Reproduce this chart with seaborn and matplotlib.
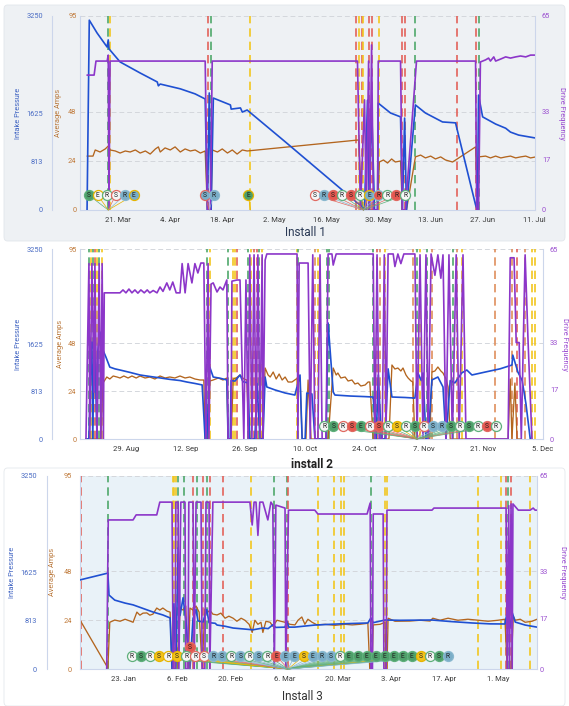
import numpy as np
import pandas as pd
import seaborn as sns
import matplotlib
matplotlib.use('Agg')
import matplotlib.pyplot as plt
import matplotlib.dates as mdates
import matplotlib.transforms as mtransforms
from matplotlib.patches import FancyBboxPatch

sns.set_theme(style='white')
plt.rcParams['font.family'] = ['Roboto', 'DejaVu Sans']

# ---------------- data (days counted from each install's base date) ----------------
# Install 1
p1_base = '2022-03-11'
p1_xlim = (-0.3, 122.2)
p1_ticks = ['2022-03-21', '2022-04-04', '2022-04-18', '2022-05-02', '2022-05-16',
            '2022-05-30', '2022-06-13', '2022-06-27', '2022-07-11']
p1_press_t = [1.6, 2.2, 4.3, 7.0, 7.3, 7.5, 10.5, 15.9, 20.5, 20.8, 21.3, 26.7, 30.7, 33.4, 34.0, 34.5,
              35.0, 35.6, 40.2, 40.4, 42.9, 43.4, 44.7, 55.0, 75.7, 76.3, 77.1, 77.6, 78.2, 79.0, 79.8,
              80.0, 83.3, 86.0, 86.5, 87.1, 87.6, 90.0, 92.7, 97.3, 100.8, 106.2, 106.7, 107.0, 108.1,
              111.6, 114.3, 115.6, 117.8, 122.4]
p1_press = [0, 3180, 2965, 2730, 2850, 2700, 2480, 2295, 2145, 2080, 2110, 2030, 1945, 1860, 0, 1960,
            0, 1875, 1760, 1690, 1710, 1640, 1675, 1140, 50, 0, 1840, 0, 1760, 0, 0,
            1790, 1625, 1560, 0, 1540, 0, 1760, 1625, 1475, 1460, 85, 0, 1925, 1560,
            1440, 1370, 1305, 1255, 1205]
p1_amps_t = [1.6, 3.2, 3.8, 5.1, 6.5, 7.3, 7.8, 9.2, 10.5, 11.9, 13.2, 14.6, 15.9, 17.3, 18.6, 20.0,
             20.8, 21.3, 22.6, 24.0, 25.3, 26.7, 28.0, 29.4, 30.7, 32.1, 33.4, 34.0, 35.0, 35.3, 36.7,
             38.0, 39.4, 40.7, 42.0, 43.4, 44.7, 74.7, 75.7, 79.8, 80.3, 81.4, 82.5, 83.6, 84.6, 86.0,
             86.5, 87.6, 90.0, 91.4, 92.7, 94.1, 95.4, 96.8, 98.1, 100.0, 106.2, 106.7, 107.0, 108.9,
             110.2, 111.6, 113.0, 114.3, 115.6, 117.0, 118.3, 119.7, 121.0, 122.4]
p1_amps = [26.4, 26.4, 29.4, 28.4, 29.9, 31.3, 29.4, 28.9, 27.9, 28.9, 28.4, 29.4, 27.9, 28.9, 27.4, 29.9,
           30.9, 28.4, 30.4, 29.4, 30.9, 28.4, 29.9, 28.9, 29.4, 27.9, 28.9, 0, 0, 29.4, 28.4,
           29.9, 27.9, 29.4, 27.4, 29.4, 28.9, 34.3, 0, 0, 23.5, 24.5, 23.0, 25.0, 23.5, 24.0,
           0, 0, 26.0, 26.9, 25.5, 26.4, 25.0, 26.0, 24.5, 23.5, 30.9, 0, 26.0, 26.4,
           25.5, 26.4, 25.5, 26.0, 26.4, 25.5, 26.0, 26.4, 25.5, 26.0]
p1_freq_t = [1.6, 3.5, 4.0, 7.0, 7.3, 7.5, 7.8, 33.4, 34.0, 34.8, 35.3, 74.4, 75.2, 76.3, 76.8, 77.4,
             77.7, 78.2, 78.7, 79.8, 80.0, 86.0, 86.5, 87.3, 90.3, 106.2, 106.5, 107.0, 107.5, 108.9,
             109.7, 110.2, 111.1, 111.6, 113.0, 114.3, 115.6, 117.0, 118.3, 119.7, 121.0, 122.4]
p1_freq = [45.2, 45.2, 49.9, 49.9, 51.9, 0, 49.9, 49.9, 0, 0, 49.9, 49.9, 0, 36.9, 0, 49.9,
           0, 55.3, 0, 0, 49.9, 49.9, 0, 0, 49.9, 49.9, 0, 0, 49.6, 50.3,
           50.9, 49.9, 51.3, 49.9, 50.6, 51.3, 50.9, 51.3, 51.6, 51.3, 51.9, 51.9]
p1_events = [7.3, 7.7, 34.2, 35.0, 45.6, 74.1, 74.9, 75.5, 76.0, 77.4, 78.2, 80.1, 86.5, 87.1,
             90.0, 101.3, 106.2, 107.0]
p1_event_kind = list('gyrgyryryrryrrgrrg')
p1_mk_center = [8.1, 34.5, 45.0, 75.1]
p1_mk_anchor = [7.3, 34.5, 45.6, 76.0]
p1_mk_level = [0, 0, 0, 0]
p1_mk_letters = ['SERSRE', 'SR', 'E', 'SRSRSRERRRR']
p1_mk_fills = ['gwwwbb', 'bb', 'g', 'wbrwrwbrwrw']
p1_mk_edges = ['gygrby', 'rb', 'y', 'rbrgrgybgrg']

# Install 2
p2_base = '2022-08-20'
p2_xlim = (-1.8, 107.0)
p2_ticks = ['2022-08-29', '2022-09-12', '2022-09-26', '2022-10-10', '2022-10-24',
            '2022-11-07', '2022-11-21', '2022-12-05']
p2_press_t = [-0.4, 0.3, 0.8, 1.0, 1.2, 1.5, 1.7, 2.2, 2.4, 2.9, 3.4, 4.3, 5.2, 6.4, 7.6, 9.9, 12.3,
              14.6, 17.0, 19.3, 21.7, 23.3, 25.2, 26.9, 27.6, 28.0, 28.7, 29.5, 31.1, 32.7, 33.0, 33.5,
              33.7, 34.6, 35.8, 36.5, 37.7, 38.1, 39.3, 39.8, 40.5, 41.2, 41.7, 42.1, 44.0, 46.4, 48.7,
              49.9, 50.4, 51.1, 51.5, 52.7, 53.4, 56.0, 56.5, 57.7, 58.1, 61.7, 65.2, 67.1, 67.8, 68.3,
              69.0, 69.9, 70.6, 71.5, 74.6, 76.9, 77.6, 78.4, 78.8, 79.5, 80.0, 80.9, 82.3, 83.5, 84.2,
              85.2, 86.3, 87.9, 89.1, 90.3, 93.4, 96.9, 99.7, 99.9, 101.1, 102.1, 103.0, 104.0]
p2_press = [0, 0, 1500, 1660, 0, 1550, 1520, 0, 1520, 1830, 1555, 1400, 1230, 1200, 1180, 1140, 1095,
            1070, 1045, 1020, 1000, 975, 950, 925, 0, 0, 1230, 1060, 1040, 1010, 0, 0,
            1000, 990, 1095, 980, 960, 0, 0, 950, 0, 0, 1060, 890, 840, 787, 752,
            1095, 0, 0, 787, 770, 0, 0, 1985, 804, 752, 735, 725, 718, 0, 1095,
            0, 0, 1200, 718, 710, 700, 1130, 1000, 1130, 0, 0, 1010, 1060, 890, 0,
            1000, 960, 1130, 1180, 1095, 1145, 1200, 1265, 1435, 1145, 1000, 600, 0]
p2_amps_t = [-0.4, 3.1, 3.6, 4.5, 5.2, 6.0, 6.9, 7.6, 8.5, 9.5, 10.4, 11.4, 12.3, 13.5, 14.6, 15.8,
             17.0, 18.2, 19.3, 20.5, 21.7, 22.9, 24.0, 25.2, 26.4, 27.3, 27.6, 28.3, 28.7, 29.5, 30.7,
             31.8, 32.7, 33.0, 33.7, 34.2, 34.9, 35.8, 36.7, 37.4, 37.9, 41.0, 41.7, 42.4, 42.9, 43.6,
             44.3, 45.0, 45.7, 46.4, 47.1, 48.0, 49.0, 49.9, 50.4, 51.3, 51.8, 52.5, 56.5, 57.7, 58.4,
             58.8, 59.5, 60.5, 61.2, 62.1, 62.8, 63.5, 64.2, 65.2, 65.9, 66.3, 67.1, 70.8, 71.5, 72.2,
             72.9, 73.6, 74.1, 74.8, 75.3, 76.0, 76.4, 76.9, 80.4, 80.9, 81.6, 82.3, 83.0, 83.5, 84.2,
             84.7, 85.2, 98.8, 99.3, 99.7, 100.4, 100.9, 101.8]
p2_amps = [0, 0, 28, 31, 30, 31.5, 31, 30.5, 31.5, 30.5, 31.5, 30.5, 31.5, 30.5, 31, 30,
           31.5, 30.5, 31, 30.5, 31.5, 30.5, 31, 30, 29.5, 29.5, 0, 0, 29, 29.5, 30.5,
           29.5, 30.5, 0, 0, 30, 30.5, 32, 30, 29.5, 0, 0, 35.5, 32, 31, 33.5,
           30, 32.5, 29.5, 31, 28.5, 28.5, 30, 30.5, 0, 0, 29.5, 0, 0, 35.5, 32,
           33, 30.5, 31, 29, 29.5, 27.5, 28, 26.5, 27, 28.5, 28.5, 0, 0, 37, 35,
           35.5, 34, 35.5, 32, 30.5, 29, 28.5, 0, 0, 33.5, 34, 36, 34, 33, 30,
           26, 0, 0, 30, 0, 28, 0, 0]
p2_freq_t = [-0.4, 0.3, 0.5, 1.0, 1.5, 1.7, 2.2, 2.7, 3.1, 3.4, 3.7, 3.9, 7.6, 8.3, 9.0, 9.7, 10.4,
             11.1, 11.8, 12.5, 13.3, 14.0, 14.6, 15.4, 16.3, 17.0, 17.7, 18.6, 19.3, 20.0, 20.8, 21.7,
             22.2, 22.9, 23.6, 24.5, 25.2, 25.9, 26.6, 27.3, 27.8, 28.3, 28.5, 29.0, 29.5, 30.4, 31.1,
             31.8, 32.7, 33.0, 33.7, 33.9, 35.1, 35.8, 36.7, 37.2, 37.7, 38.1, 38.6, 39.1, 39.6, 40.0,
             40.5, 41.0, 41.2, 41.7, 42.1, 49.2, 49.4, 49.7, 51.8, 52.3, 52.9, 53.4, 54.1, 54.6, 55.1,
             56.0, 56.5, 57.4, 57.7, 58.4, 67.1, 67.5, 68.0, 68.5, 69.2, 69.7, 70.1, 70.6, 71.8, 72.2,
             72.9, 73.6, 74.3, 76.9, 77.4, 78.1, 78.8, 79.5, 80.0, 80.7, 81.6, 82.3, 83.0, 83.5, 84.2,
             84.9, 85.7, 86.6, 87.3, 88.2, 88.9, 98.8, 99.3, 100.2, 100.7, 101.4, 101.9, 102.8, 103.5,
             104.4]
p2_freq = [0, 60, 0, 60, 16, 60, 0, 60, 0, 60, 0, 50, 50, 51, 50, 51.3, 50,
           51, 49.9, 51, 50, 51, 50, 50.8, 50, 52, 50.5, 53.4, 51, 53.7, 50, 50,
           60, 50, 60, 53.4, 60, 56.8, 60.2, 60.2, 0, 60, 0, 53, 53.4, 50.3, 52,
           51, 54.4, 0, 0, 54, 54.4, 54.4, 0, 54.4, 0, 63, 0, 63, 0, 63,
           0, 63, 0, 61.2, 63.3, 63.3, 0, 60.2, 60.2, 0, 63, 0, 0, 63, 0,
           0, 63.3, 63.3, 59.5, 63.3, 63.3, 0, 63, 0, 0, 63, 0, 63.3, 63.3, 59,
           63.3, 60, 63.3, 63.3, 0, 63, 0, 63, 0, 63.3, 56, 63, 55, 63, 0,
           63, 0, 63, 0, 63, 0, 0, 62, 62, 33, 33, 0, 63, 33,
           0]
p2_events = [0.3, 0.8, 1.2, 1.7, 2.2, 2.7, 3.4, 28.0, 28.7, 33.0, 34.2, 34.6, 35.1, 37.7, 38.4,
             39.1, 39.8, 40.3, 41.0, 49.2, 49.4, 53.4, 54.1, 56.2, 56.7, 67.1, 68.0, 68.7, 69.9,
             76.4, 77.4, 78.1, 79.7, 80.9, 85.9, 86.8, 88.0, 95.7, 99.7, 100.9, 102.8, 104.4, 105.1]
p2_event_kind = list('gygrygygygyyrgyrrgyygoygggroyogygogoyooroyy')
p2_mk_center = [75.8]
p2_mk_anchor = [77.4]
p2_mk_level = [0]
p2_mk_letters = ['RSRSERSRSRSRSRSRSRSR']
p2_mk_fills = ['wgwrgwrwywgwbbgwgwrw']
p2_mk_edges = ['ggrrgrrgyggrbbggggrg']

# Install 3
p3_base = '2023-01-11'
p3_xlim = (0.5, 120.2)
p3_ticks = ['2023-01-23', '2023-02-06', '2023-02-20', '2023-03-06', '2023-03-20',
            '2023-04-03', '2023-04-17', '2023-05-01']
p3_press_t = [0.5, 7.8, 8.1, 9.6, 12.3, 14.4, 17.0, 19.6, 22.2, 24.1, 24.6, 25.1, 25.6, 26.2, 26.7,
              27.5, 28.2, 29.3, 30.1, 30.9, 31.4, 32.7, 33.7, 34.3, 35.9, 36.4, 38.5, 40.6, 43.2, 45.8,
              48.4, 49.8, 51.0, 51.8, 54.2, 54.7, 55.2, 56.7, 62.0, 68.6, 75.9, 76.7, 77.3, 80.4, 84.3,
              92.7, 97.4, 103.2, 107.9, 111.8, 112.6, 113.1, 113.7, 114.5, 117.1, 120.2]
p3_press = [1500, 1615, 1245, 1160, 1110, 1080, 1020, 960, 910, 860, 0, 1100, 0, 2040, 900,
            1200, 830, 0, 850, 1000, 810, 790, 1000, 780, 770, 740, 720, 690, 675, 660,
            690, 680, 745, 700, 705, 800, 705, 705, 740, 760, 775, 860, 780, 825, 820,
            825, 800, 775, 760, 758, 1030, 700, 950, 790, 740, 705]
p3_amps_t = [0.5, 7.8, 8.3, 9.6, 11.0, 12.3, 13.6, 14.4, 15.4, 16.2, 17.0, 18.0, 18.8, 19.6, 20.6,
             21.4, 22.2, 23.3, 24.1, 24.6, 25.4, 26.2, 26.7, 27.5, 28.2, 28.8, 29.3, 30.1, 30.9, 31.7,
             32.5, 33.2, 34.0, 34.5, 35.3, 36.4, 37.4, 38.5, 39.5, 40.6, 41.6, 42.7, 43.7, 44.8, 45.6,
             46.3, 47.1, 47.9, 48.4, 49.2, 50.3, 51.0, 52.1, 53.1, 54.2, 55.5, 56.8, 57.6, 58.6, 59.4,
             60.2, 61.3, 62.6, 64.7, 67.3, 69.9, 71.8, 73.8, 75.9, 76.4, 77.0, 77.3, 79.1, 80.4, 80.6,
             80.9, 81.2, 83.0, 86.9, 89.6, 92.2, 92.9, 94.8, 96.9, 99.5, 102.1, 104.8, 107.4, 110.0,
             111.8, 112.4, 113.4, 114.0, 114.5, 115.8, 117.1, 118.9, 120.2]
p3_amps = [24.1, 0.5, 23, 24.1, 23.5, 24.5, 23.6, 23, 28, 26.5, 27.5, 27.6, 26.5, 27, 30,
           29, 30, 28.5, 28, 0, 29, 0, 30, 29, 31, 0, 30, 29, 31, 28,
           0, 29.5, 28, 29, 27, 26.6, 27.5, 25, 26, 25, 23.5, 25, 24, 22, 18,
           24, 22, 23, 18, 23.5, 23, 21, 24, 23.5, 23, 22, 21.7, 24, 25.6, 22,
           24.5, 23, 21.7, 22, 21.5, 22, 21.7, 22, 22.5, 0, 0, 21.7, 22, 23, 0,
           0, 25, 23.5, 23.6, 24, 23.6, 25, 24, 25, 24, 24.5, 24, 23.5, 24,
           24.5, 0, 0, 26, 24, 24.5, 23, 23.5, 24.5]
p3_freq_t = [7.5, 7.9, 14.4, 15.2, 20.6, 21.4, 24.6, 24.9, 25.4, 25.6, 26.2, 26.4, 26.9, 28.0, 28.2,
             28.8, 29.0, 30.1, 30.4, 30.9, 32.2, 32.5, 33.2, 33.5, 34.3, 34.5, 35.3, 45.0, 45.6, 46.1,
             46.6, 47.1, 47.6, 48.4, 49.7, 50.5, 51.0, 51.4, 51.8, 54.2, 54.4, 55.1, 62.0, 62.8, 75.7,
             76.5, 76.7, 77.1, 77.3, 79.9, 80.1, 80.7, 80.9, 92.7, 93.2, 112.1, 112.4, 112.8, 113.0,
             113.4, 113.7, 113.9, 115.3, 118.4, 119.2, 119.7, 120.2]
p3_freq = [0, 50.2, 50.2, 51.9, 51.9, 56.2, 56.2, 0, 0, 56.2, 56.2, 0, 56.2, 56.2, 0,
           0, 56.2, 56.2, 0, 56.2, 56.2, 0, 0, 56.2, 56.2, 0, 56.2, 56.2, 48.5, 56.2,
           56.2, 45, 56.2, 56.2, 50.2, 56.2, 55.2, 0, 55.2, 54.2, 0, 53.5, 53.5, 52.2, 52.2,
           55.9, 0, 0, 52.2, 52.2, 0, 0, 53.5, 53.5, 54.2, 54.2, 0, 55, 0,
           55.6, 0, 55.6, 53.5, 53.5, 54.2, 53.5, 53.5]
p3_events = [0.7, 7.8, 24.9, 25.1, 25.6, 26.2, 27.7, 30.1, 31.1, 32.7, 33.7, 34.5, 37.9, 45.3,
             51.3, 54.7, 55.0, 62.8, 67.0, 68.9, 69.6, 76.7, 80.4, 80.9, 104.8, 110.8, 112.1,
             112.6, 113.4, 118.4]
p3_event_kind = list('rgyyyggrgrgrryggryyyygyyyyrgry')
p3_mk_center = [55.5, 29.3]
p3_mk_anchor = [55.0, 29.3]
p3_mk_level = [0, 1]
p3_mk_letters = ['RSRSRSRRSRSRSRSREEESERSREEEEEEEESRSR', 'S']
p3_mk_fills = ['wgwywywwwbbwbwbwrbbybbbwggggggggywgb', 'r']
p3_mk_edges = ['gggyyygrrbbgbgbgrbbybbbgggggggggyggb', 'r']

amp_ticks = [0, 24, 48, 95]
press_ticks = [0, 813, 1625, 3250]
freq_ticks = [0, 17, 33, 65]

# ---------------- styling ----------------
BLUE, BROWN, PURPLE = '#1f50d2', '#b3651e', '#8c36c9'
EVENT_COL = {'r': '#e3625a', 'g': '#4fa86b', 'y': '#f2c61f', 'o': '#df8f5c'}
FILL = {'w': '#f6f6f6', 'g': '#4e9f6a', 'r': '#e5574f', 'b': '#7aaec8', 'y': '#f3c21b'}
EDGE = {'w': '#cfcfcf', 'g': '#5fb07c', 'r': '#e06a62', 'b': '#8ab8cf', 'y': '#e6b400'}
AXIS_COL = '#ccd6eb'
W, H = 569, 706


def to_dates(base, days):
    return pd.Timestamp(base) + pd.to_timedelta(np.asarray(days, dtype=float), unit='D')


def draw_line(ax, base, t, v, color, lw):
    df = pd.DataFrame({'date': to_dates(base, t), 'value': v})
    sns.lineplot(data=df, x='date', y='value', ax=ax, color=color, linewidth=lw,
                 sort=False, estimator=None, legend=False)


def draw_markers(fig, ax, base, centers, anchors, levels, letters, fills, edges, row_y, step=6.5):
    trans = mtransforms.blended_transform_factory(ax.transData, ax.transAxes)
    for c, a, lev, lets, fs, es in zip(centers, anchors, levels, letters, fills, edges):
        xc = mdates.date2num(pd.Timestamp(base) + pd.Timedelta(days=c))
        xa = mdates.date2num(pd.Timestamp(base) + pd.Timedelta(days=a))
        yr = row_y + 0.045 * lev
        n = len(lets)
        offs = [mtransforms.offset_copy(trans, fig=fig, x=(i - (n - 1) / 2) * step, y=0, units='points')
                for i in range(n)]
        for i in range(n):
            ax.annotate('', xy=(xa, 0), xycoords=trans, xytext=(xc, yr), textcoords=offs[i],
                        arrowprops=dict(arrowstyle='-', color=EDGE[es[i]], lw=0.5,
                                        shrinkA=0, shrinkB=0), zorder=8, annotation_clip=False)
        for i in range(n):
            ax.plot([xc], [yr], 'o', transform=offs[i], ms=7.2, mfc=FILL[fs[i]], mec=EDGE[es[i]],
                    mew=0.9, zorder=10 + i * 0.01, clip_on=False)
            ax.text(xc, yr, lets[i], transform=offs[i], ha='center', va='center', fontsize=4.9,
                    color='#222222', zorder=10.005 + i * 0.01)


def draw_panel(fig, rect_px, base, xlim, ticks, press, amps, freq, events, kinds, markers, lay):
    l, r, top, bot = rect_px
    ax = fig.add_axes([l / W, 1 - bot / H, (r - l) / W, (bot - top) / H])
    ax.set_facecolor(lay.get('face', 'none'))
    ax_p = ax.twinx()
    ax_f = ax.twinx()

    for d, k in zip(events, kinds):
        ax.axvline(pd.Timestamp(base) + pd.Timedelta(days=d), color=EVENT_COL[k], lw=1.2,
                   dashes=(5, 3), zorder=1.5)
    draw_line(ax, base, amps[0], amps[1], BROWN, 0.95)
    draw_line(ax_p, base, press[0], press[1], BLUE, 1.2)
    draw_line(ax_f, base, freq[0], freq[1], PURPLE, 1.2)

    ax.set_ylim(0, 95)
    ax_p.set_ylim(0, 3250)
    ax_f.set_ylim(0, 65)
    ax.set_xlim(to_dates(base, [xlim[0]])[0], to_dates(base, [xlim[1]])[0])

    draw_markers(fig, ax_f, base, *markers, row_y=lay['row'])

    ax.set_yticks(amp_ticks)
    ax_p.set_yticks(press_ticks)
    ax_f.set_yticks(freq_ticks)
    ax.set_xticks(pd.to_datetime(ticks))
    ax.xaxis.set_major_formatter(mdates.DateFormatter('%-d. %b'))
    ax.set_ylim(0, 95)
    ax_p.set_ylim(0, 3250)
    ax_f.set_ylim(0, 65)
    ax.set_xlim(to_dates(base, [xlim[0]])[0], to_dates(base, [xlim[1]])[0])

    ax.yaxis.grid(True, color='#d4d7dc', lw=0.7, dashes=(5, 3))
    ax.set_axisbelow(True)

    for a in (ax, ax_p, ax_f):
        for s in a.spines.values():
            s.set_visible(False)
        a.set_xlabel('')
    ax.spines['left'].set_visible(True)
    ax.spines['left'].set_color(AXIS_COL)
    ax.spines['bottom'].set_visible(True)
    ax.spines['bottom'].set_color(AXIS_COL)
    ax_f.spines['right'].set_visible(True)
    ax_f.spines['right'].set_color(AXIS_COL)
    ax_p.yaxis.tick_left()
    ax_p.yaxis.set_label_position('left')
    ax_p.spines['left'].set_visible(True)
    ax_p.spines['left'].set_color(AXIS_COL)
    ax_p.spines['left'].set_position(('outward', lay['p_out']))
    for s in ('left', 'right', 'bottom'):
        for a in (ax, ax_p, ax_f):
            a.spines[s].set_linewidth(0.8)

    ax.tick_params(axis='x', length=3, width=0.6, color=AXIS_COL, labelsize=5.5,
                   labelcolor='#3a3a3a', pad=2)
    ax.tick_params(axis='y', length=0, labelsize=5.3, labelcolor='#c07a3a', pad=lay['a_pad'])
    ax_p.tick_params(axis='y', length=0, labelsize=5.3, labelcolor='#4a6cc4', pad=lay['p_pad'])
    ax_f.tick_params(axis='y', length=0, labelsize=5.3, labelcolor='#9b4fd0', pad=lay['f_pad'])

    wpx = r - l
    ax_p.set_ylabel('Intake Pressure', fontsize=5.3, color='#3f63c2')
    ax_p.yaxis.set_label_coords((lay['p_lab'] - l) / wpx, 0.5)
    ax.set_ylabel('Average Amps', fontsize=5.3, color='#b9773a')
    ax.yaxis.set_label_coords((lay['a_lab'] - l) / wpx, 0.5)
    ax_f.set_ylabel('Drive Frequency', fontsize=5.3, color='#9a4ad1', rotation=270, va='center')
    ax_f.yaxis.set_label_coords((lay['f_lab'] - l) / wpx, 0.5)
    for a in (ax, ax_p):
        a.yaxis.label.set_va('center')
    return ax


fig = plt.figure(figsize=(W / 100, H / 100), dpi=100)
fig.patch.set_facecolor('white')

# panel backgrounds
fig.patches.append(FancyBboxPatch((4 / W, 1 - 241 / H), 561 / W, 236 / H,
                                  boxstyle='round,pad=0,rounding_size=0.006',
                                  transform=fig.transFigure, facecolor='#eef1f4',
                                  edgecolor='#e2e6eb', lw=0.6, zorder=-5))
fig.patches.append(FancyBboxPatch((4 / W, 0), 561 / W, 238 / H,
                                  boxstyle='round,pad=0,rounding_size=0.006',
                                  transform=fig.transFigure, facecolor='white',
                                  edgecolor='#e4e8ec', lw=0.6, zorder=-5))

draw_panel(fig, (80, 535, 16, 210), p1_base, p1_xlim, p1_ticks,
           (p1_press_t, p1_press), (p1_amps_t, p1_amps), (p1_freq_t, p1_freq),
           p1_events, p1_event_kind,
           (p1_mk_center, p1_mk_anchor, p1_mk_level, p1_mk_letters, p1_mk_fills, p1_mk_edges),
           dict(row=0.077, p_out=20, a_pad=2.5, p_pad=6.5, f_pad=5, p_lab=19, a_lab=59, f_lab=561))
draw_panel(fig, (80, 543, 249, 439), p2_base, p2_xlim, p2_ticks,
           (p2_press_t, p2_press), (p2_amps_t, p2_amps), (p2_freq_t, p2_freq),
           p2_events, p2_event_kind,
           (p2_mk_center, p2_mk_anchor, p2_mk_level, p2_mk_letters, p2_mk_fills, p2_mk_edges),
           dict(row=0.068, p_out=20, a_pad=2.5, p_pad=6.5, f_pad=5, p_lab=19, a_lab=61, f_lab=565))
draw_panel(fig, (80, 537, 476, 669), p3_base, p3_xlim, p3_ticks,
           (p3_press_t, p3_press), (p3_amps_t, p3_amps), (p3_freq_t, p3_freq),
           p3_events, p3_event_kind,
           (p3_mk_center, p3_mk_anchor, p3_mk_level, p3_mk_letters, p3_mk_fills, p3_mk_edges),
           dict(row=0.067, p_out=24, a_pad=6, p_pad=7, f_pad=2, p_lab=13, a_lab=53, f_lab=562,
                face='#e9f2f8'))

fig.text(305 / W, 1 - 233 / H, 'Install 1', ha='center', va='center', fontsize=8.5, color='#2b3a55')
fig.text(312 / W, 1 - 464 / H, 'install 2', ha='center', va='center', fontsize=8.5,
         fontweight='bold', color='#222222')
fig.text(302 / W, 1 - 697 / H, 'Install 3', ha='center', va='center', fontsize=8.5, color='#333333')

fig.savefig('out.png', dpi=100)
